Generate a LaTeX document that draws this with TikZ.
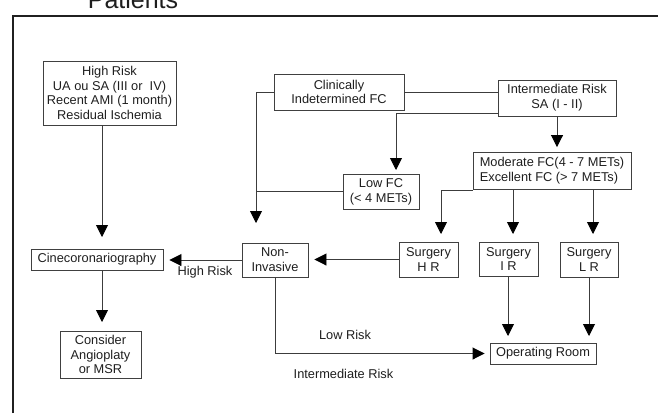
\documentclass[tikz,border=0pt]{standalone}
\usepackage{fontspec}
\setmainfont{Liberation Sans}
\usetikzlibrary{arrows.meta}
\definecolor{boxc}{HTML}{404040}
\definecolor{linec}{HTML}{3C3C3C}
\definecolor{txtc}{HTML}{1E1E1E}
\definecolor{framec}{HTML}{202020}
\begin{document}
\begin{tikzpicture}[x=1pt,y=-1pt,
  box/.style={draw=boxc, line width=0.9pt, inner sep=0pt, align=center,
    font=\fontsize{12.8}{14.7}\selectfont, text=txtc},
  ln/.style={draw=linec, line width=0.9pt},
  arr/.style={ln, -{Triangle[width=12pt,length=12pt,color=black]}},
  lbl/.style={font=\fontsize{12.8}{14.7}\selectfont, text=txtc, inner sep=0pt}]
\useasboundingbox (0,0) rectangle (658,413);
% frame
\coordinate (fr1) at (13,413);
\coordinate (fr2) at (13,16);
\coordinate (fr3) at (660,16);
\draw[framec, line width=2.2pt] (fr1) -- (fr2) -- (fr3);
\node[lbl, anchor=base, font=\fontsize{25}{28}\selectfont] (title) at (133,8) {Patients};
% nodes
\node[box, minimum width=133pt, minimum height=64pt] (hr) at (109.5,93)
  {High Risk\\UA ou SA (III or\ \ IV)\\Recent AMI (1 month)\\Residual Ischemia};
\node[box, minimum width=130pt, minimum height=36pt] (ci) at (339,92)
  {Clinically\\Indetermined FC};
\node[box, minimum width=118pt, minimum height=36pt] (ir) at (557,98)
  {Intermediate Risk\\SA (I - II)};
\node[box, minimum width=76pt, minimum height=35pt] (lfc) at (381,191.5)
  {Low FC\\(< 4 METs)};
\node[box, minimum width=158pt, minimum height=37pt, align=left] (mod) at (552,171)
  {Moderate FC(4 - 7 METs)\\Excellent FC (> 7 METs)};
\node[box, minimum width=59pt, minimum height=35pt] (shr) at (428.5,259.5)
  {Surgery\\H R};
\node[box, minimum width=59pt, minimum height=34pt] (sir) at (508.5,259)
  {Surgery\\I R};
\node[box, minimum width=58pt, minimum height=35pt] (slr) at (589,259.5)
  {Surgery\\L R};
\node[box, minimum width=106pt, minimum height=21pt] (orm) at (543,353.5)
  {Operating Room};
\node[box, minimum width=66pt, minimum height=34pt] (ni) at (275,260)
  {Non-\\Invasive};
\node[box, minimum width=132pt, minimum height=21pt] (cine) at (97,259.5)
  {Cinecoronariography};
\node[box, minimum width=81pt, minimum height=47pt] (cons) at (100.5,354.5)
  {Consider\\Angioplaty\\or MSR};
% labels
\node[lbl] (lhr) at (205,272) {High Risk};
\node[lbl] (llr) at (345,335) {Low Risk};
\node[lbl] (limr) at (343.5,374) {Intermediate Risk};
% helper coordinates
\coordinate (a1) at (256,223);
\coordinate (b0) at (498,113);
\coordinate (b1) at (396,170);
\coordinate (c1) at (441,234);
\coordinate (c2) at (513,234);
\coordinate (c3) at (593,234);
\coordinate (d1) at (508,336);
\coordinate (d2) at (589,336);
\coordinate (e1) at (102,237);
\coordinate (e2) at (102,322);
% connectors
\draw[arr] (ci.west) -| (a1);
\draw[ln] (ci.east) -- (ci.east -| ir.west);
\draw[arr] (b0) -| (b1);
\draw[ln] (lfc.west) -- (lfc.west -| a1);
\draw[arr, shorten >=5pt] (ir.south) -- (ir.south |- mod.north);
\draw[arr] (mod.south west) -| (c1);
\draw[arr] (mod.south -| c2) -- (c2);
\draw[arr] (mod.south -| c3) -- (c3);
\draw[arr] (sir.south -| d1) -- (d1);
\draw[arr] (slr.south -| d2) -- (d2);
\draw[arr, shorten >=6pt] (shr.west) -- (shr.west -| ni.east);
\draw[arr, shorten >=6pt] (ni.west) -- (ni.west -| cine.east);
\draw[arr] (hr.south -| e1) -- (e1);
\draw[arr] (cine.south -| e2) -- (e2);
\draw[arr, shorten >=5pt] (ni.south) |- (orm.west);
\end{tikzpicture}
\end{document}
